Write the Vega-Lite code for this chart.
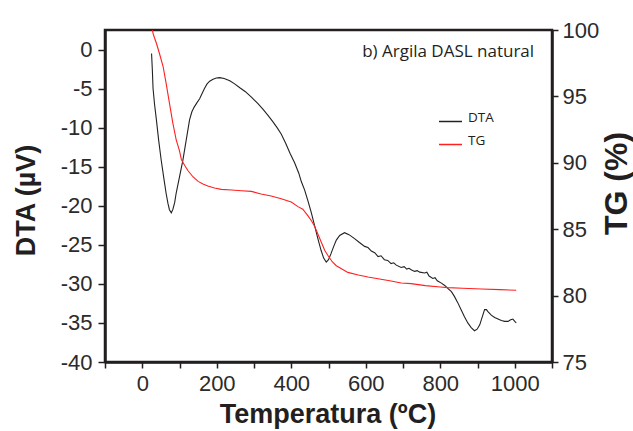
{
  "$schema": "https://vega.github.io/schema/vega-lite/v6.json",
  "width": 447,
  "height": 332,
  "autosize": {"type": "none"},
  "padding": {"left": 105, "top": 30, "right": 81, "bottom": 69},
  "background": "white",
  "datasets": {
    "dta": [
      {"T": 25, "DTA": -0.5}, {"T": 27, "DTA": -2.5}, {"T": 29, "DTA": -5.0}, {"T": 33, "DTA": -7.0},
      {"T": 38, "DTA": -9.0}, {"T": 44, "DTA": -11.6}, {"T": 51, "DTA": -14.2}, {"T": 58, "DTA": -16.5},
      {"T": 64, "DTA": -18.4}, {"T": 69, "DTA": -19.7}, {"T": 73, "DTA": -20.5}, {"T": 78, "DTA": -20.9},
      {"T": 82, "DTA": -20.5}, {"T": 87, "DTA": -19.6}, {"T": 91, "DTA": -18.4}, {"T": 100, "DTA": -16.3},
      {"T": 109, "DTA": -14.2}, {"T": 118, "DTA": -11.6}, {"T": 127, "DTA": -9.0}, {"T": 133, "DTA": -8.0},
      {"T": 139, "DTA": -7.4}, {"T": 147, "DTA": -6.8}, {"T": 154, "DTA": -6.3}, {"T": 160, "DTA": -5.7},
      {"T": 167, "DTA": -5.0}, {"T": 174, "DTA": -4.4}, {"T": 181, "DTA": -4.05}, {"T": 190, "DTA": -3.8},
      {"T": 199, "DTA": -3.65}, {"T": 208, "DTA": -3.6}, {"T": 220, "DTA": -3.7}, {"T": 235, "DTA": -4.0},
      {"T": 248, "DTA": -4.4}, {"T": 262, "DTA": -4.9}, {"T": 277, "DTA": -5.4}, {"T": 293, "DTA": -6.1},
      {"T": 310, "DTA": -6.9}, {"T": 325, "DTA": -7.7}, {"T": 337, "DTA": -8.4}, {"T": 350, "DTA": -9.2},
      {"T": 362, "DTA": -10.0}, {"T": 373, "DTA": -10.8}, {"T": 385, "DTA": -12.0}, {"T": 397, "DTA": -13.3},
      {"T": 409, "DTA": -14.5}, {"T": 420, "DTA": -15.8}, {"T": 427, "DTA": -16.9}, {"T": 436, "DTA": -18.0},
      {"T": 445, "DTA": -19.4}, {"T": 454, "DTA": -20.9}, {"T": 463, "DTA": -22.6}, {"T": 472, "DTA": -24.3},
      {"T": 480, "DTA": -25.7}, {"T": 487, "DTA": -26.7}, {"T": 494, "DTA": -27.2}, {"T": 500, "DTA": -26.9},
      {"T": 507, "DTA": -26.1}, {"T": 514, "DTA": -25.2}, {"T": 521, "DTA": -24.4}, {"T": 530, "DTA": -23.8},
      {"T": 543, "DTA": -23.45}, {"T": 555, "DTA": -23.7}, {"T": 570, "DTA": -24.2}, {"T": 583, "DTA": -24.7},
      {"T": 597, "DTA": -25.2}, {"T": 606, "DTA": -25.35}, {"T": 615, "DTA": -25.8}, {"T": 624, "DTA": -26.0},
      {"T": 633, "DTA": -26.5}, {"T": 641, "DTA": -26.4}, {"T": 650, "DTA": -26.9}, {"T": 659, "DTA": -27.0},
      {"T": 668, "DTA": -27.4}, {"T": 675, "DTA": -27.3}, {"T": 682, "DTA": -27.6}, {"T": 695, "DTA": -27.9},
      {"T": 703, "DTA": -27.8}, {"T": 710, "DTA": -28.1}, {"T": 716, "DTA": -28.0}, {"T": 722, "DTA": -28.2},
      {"T": 731, "DTA": -28.4}, {"T": 738, "DTA": -28.3}, {"T": 745, "DTA": -28.5}, {"T": 758, "DTA": -28.6},
      {"T": 764, "DTA": -28.5}, {"T": 770, "DTA": -29.0}, {"T": 780, "DTA": -29.3}, {"T": 786, "DTA": -29.2},
      {"T": 792, "DTA": -29.6}, {"T": 803, "DTA": -29.9}, {"T": 812, "DTA": -30.2}, {"T": 821, "DTA": -30.6},
      {"T": 830, "DTA": -31.0}, {"T": 838, "DTA": -31.6}, {"T": 847, "DTA": -32.4}, {"T": 856, "DTA": -33.3},
      {"T": 865, "DTA": -34.2}, {"T": 874, "DTA": -35.0}, {"T": 883, "DTA": -35.6}, {"T": 892, "DTA": -36.0},
      {"T": 899, "DTA": -35.8}, {"T": 906, "DTA": -35.25}, {"T": 913, "DTA": -34.2}, {"T": 919, "DTA": -33.3},
      {"T": 924, "DTA": -33.3}, {"T": 928, "DTA": -33.55}, {"T": 937, "DTA": -34.0}, {"T": 946, "DTA": -34.3},
      {"T": 955, "DTA": -34.5}, {"T": 964, "DTA": -34.7}, {"T": 973, "DTA": -34.8}, {"T": 982, "DTA": -34.8},
      {"T": 989, "DTA": -34.6}, {"T": 995, "DTA": -34.5}, {"T": 1000, "DTA": -34.8}, {"T": 1004, "DTA": -35.0}
    ],
    "tg": [
      {"T": 27, "TG": 100.0}, {"T": 29, "TG": 99.75}, {"T": 33, "TG": 99.4}, {"T": 38, "TG": 99.0},
      {"T": 46, "TG": 98.25}, {"T": 56, "TG": 97.25}, {"T": 64, "TG": 96.0}, {"T": 73, "TG": 94.5},
      {"T": 82, "TG": 93.0}, {"T": 91, "TG": 91.75}, {"T": 100, "TG": 90.9}, {"T": 105, "TG": 90.25},
      {"T": 114, "TG": 89.8}, {"T": 123, "TG": 89.4}, {"T": 136, "TG": 88.95}, {"T": 150, "TG": 88.6},
      {"T": 163, "TG": 88.4}, {"T": 176, "TG": 88.25}, {"T": 194, "TG": 88.1}, {"T": 212, "TG": 88.0},
      {"T": 240, "TG": 87.95}, {"T": 266, "TG": 87.9}, {"T": 293, "TG": 87.85}, {"T": 319, "TG": 87.65},
      {"T": 346, "TG": 87.5}, {"T": 373, "TG": 87.3}, {"T": 400, "TG": 87.05}, {"T": 418, "TG": 86.7},
      {"T": 431, "TG": 86.5}, {"T": 445, "TG": 86.0}, {"T": 455, "TG": 85.6}, {"T": 463, "TG": 85.2},
      {"T": 472, "TG": 84.6}, {"T": 481, "TG": 84.0}, {"T": 490, "TG": 83.4}, {"T": 499, "TG": 83.0},
      {"T": 510, "TG": 82.55}, {"T": 521, "TG": 82.25}, {"T": 536, "TG": 82.0}, {"T": 552, "TG": 81.75},
      {"T": 580, "TG": 81.55}, {"T": 606, "TG": 81.4}, {"T": 637, "TG": 81.25}, {"T": 668, "TG": 81.1},
      {"T": 695, "TG": 80.95}, {"T": 722, "TG": 80.9}, {"T": 760, "TG": 80.75}, {"T": 800, "TG": 80.65},
      {"T": 821, "TG": 80.6}, {"T": 860, "TG": 80.55}, {"T": 910, "TG": 80.5}, {"T": 960, "TG": 80.45},
      {"T": 1004, "TG": 80.4}
    ],
    "note": [{"label": "b) Argila DASL natural"}]
  },
  "layer": [
    {
      "layer": [
        {
          "data": {"name": "dta"},
          "mark": {"type": "line", "strokeWidth": 1.1, "clip": true},
          "encoding": {
            "x": {
              "field": "T", "type": "quantitative",
              "scale": {"domain": [-100, 1100], "nice": false, "zero": false},
              "axis": {
                "title": "Temperatura (ºC)",
                "values": [0, 200, 400, 600, 800, 1000],
                "format": "d",
                "tickSize": 6, "labelPadding": 5,
                "titleX": 222.5, "titleY": 60, "titleBaseline": "alphabetic"
              }
            },
            "y": {
              "field": "DTA", "type": "quantitative",
              "scale": {"domain": [-40, 2.5], "nice": false, "zero": false},
              "axis": {
                "title": "DTA (µV)", "orient": "left",
                "values": [-40, -35, -30, -25, -20, -15, -10, -5, 0],
                "labelExpr": "replace(datum.label, '−', '-')",
                "tickSize": 7, "labelPadding": 6,
                "titleX": -79, "titleY": 170, "titleBaseline": "middle", "titleAngle": -90
              }
            },
            "color": {
              "datum": "DTA", "type": "nominal",
              "scale": {"domain": ["DTA", "TG"], "range": ["#222222", "#ff2020"]},
              "legend": {
                "orient": "none", "legendX": 333, "legendY": 79, "title": null,
                "symbolType": "stroke", "symbolSize": 529, "symbolStrokeWidth": 1.5,
                "labelFont": "Open Sans", "labelFontSize": 13.5, "labelColor": "#231f20",
                "labelBaseline": "alphabetic", "labelOffset": 5, "rowPadding": 7, "padding": 0
              }
            }
          }
        },
        {
          "data": {"name": "note"},
          "mark": {"type": "text", "align": "right", "baseline": "alphabetic", "font": "Open Sans", "fontSize": 17, "fill": "#231f20"},
          "encoding": {
            "x": {"datum": 1052, "type": "quantitative"},
            "y": {"datum": -0.95, "type": "quantitative"},
            "text": {"field": "label", "type": "nominal"}
          }
        }
      ]
    },
    {
      "data": {"name": "tg"},
      "mark": {"type": "line", "strokeWidth": 1.1, "clip": true},
      "encoding": {
        "x": {
          "field": "T", "type": "quantitative",
          "axis": {
            "title": null, "labels": false, "domain": false, "orient": "bottom",
            "values": [-100, 100, 300, 500, 700, 900, 1100],
            "tickSize": 6
          }
        },
        "y": {
          "field": "TG", "type": "quantitative",
          "scale": {"domain": [75, 100], "nice": false, "zero": false},
          "axis": {
            "title": "TG (%)", "orient": "right",
            "values": [75, 80, 85, 90, 95, 100],
            "tickSize": 6, "labelPadding": 4,
            "titleFontSize": 32,
            "titleX": 64, "titleY": 153, "titleBaseline": "middle", "titleAngle": 270
          }
        },
        "color": {"datum": "TG", "type": "nominal"}
      }
    }
  ],
  "resolve": {"scale": {"y": "independent"}, "axis": {"x": "independent"}},
  "config": {
    "view": {"stroke": "#231f20", "strokeWidth": 2.5},
    "axis": {
      "grid": false,
      "domainColor": "#231f20", "domainWidth": 2.5,
      "tickColor": "#231f20", "tickWidth": 1.5,
      "labelFont": "Liberation Sans", "labelFontSize": 22, "labelColor": "#2b2b2b",
      "labelFlush": false, "labelOverlap": false, "labelBound": false,
      "titleFont": "Liberation Sans", "titleFontSize": 27, "titleFontWeight": "bold", "titleColor": "#231f20"
    }
  }
}
